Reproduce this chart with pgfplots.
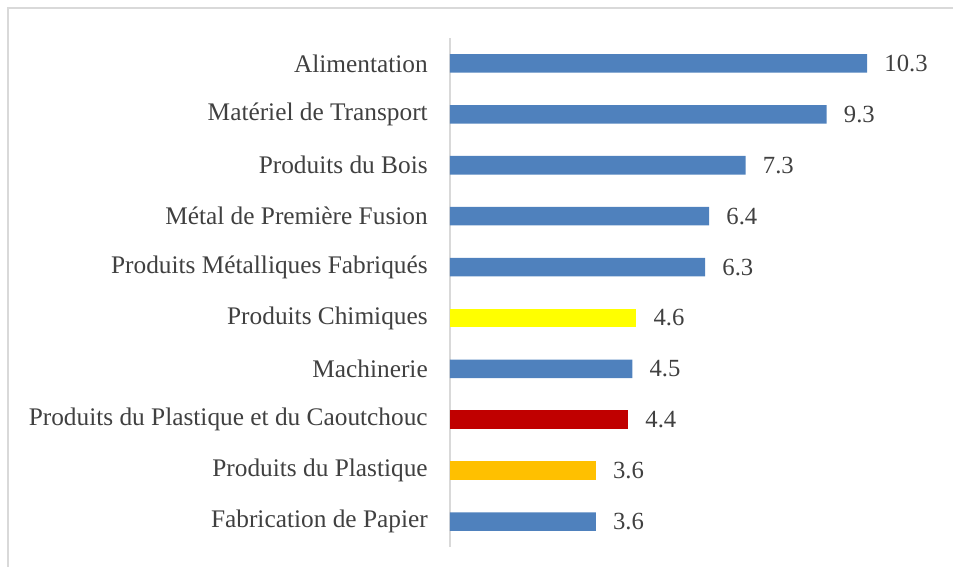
\documentclass[border=0pt]{standalone}
\usepackage{pgfplots}
\pgfplotsset{compat=1.18}
\usepackage{fontspec}
\setmainfont{Liberation Serif}
\definecolor{txt}{HTML}{404040}
\definecolor{cblue}{HTML}{4F81BD}
\definecolor{cyellow}{HTML}{FFFF00}
\definecolor{cred}{HTML}{C00000}
\definecolor{corange}{HTML}{FFC000}
\definecolor{gridg}{HTML}{D9D9D9}
\begin{document}
\begin{tikzpicture}
\useasboundingbox (0,0) rectangle (714.75pt,425.25pt);
\draw[gridg, line width=0.8pt] (6pt,-5pt) -- (6pt,419.25pt) -- (720pt,419.25pt);
\begin{axis}[
  at={(337.5pt,15pt)}, anchor=south west,
  scale only axis, width=364.5pt, height=381.75pt,
  xmin=0, xmax=12, ymin=-0.5, ymax=9.5,
  hide x axis,
  axis y line*=left,
  y axis line style={draw=gridg, line width=0.8pt, -},
  ytick={0,...,9},
  yticklabels={Fabrication de Papier, Produits du Plastique, Produits du Plastique et du Caoutchouc, Machinerie, Produits Chimiques, Produits Métalliques Fabriqués, Métal de Première Fusion, Produits du Bois, Matériel de Transport, Alimentation},
  major tick length=0pt,
  y tick label style={font=\fontsize{19}{21}\selectfont, text=txt, inner sep=0pt, xshift=-16.5pt},
  xbar, bar width=13.9pt, bar shift=0pt,
  clip=false,
  nodes near coords,
  nodes near coords style={font=\fontsize{18.5}{21}\selectfont, text=txt, anchor=west, inner sep=0pt, xshift=12.75pt},
  point meta=explicit symbolic,
]
\addplot[fill=cblue, draw=none] coordinates {(3.6,0)[3.6] (4.5,3)[4.5] (6.3,5)[6.3] (6.4,6)[6.4] (7.3,7)[7.3] (9.3,8)[9.3] (10.3,9)[10.3]};
\addplot[fill=corange, draw=none] coordinates {(3.6,1)[3.6]};
\addplot[fill=cred, draw=none] coordinates {(4.4,2)[4.4]};
\addplot[fill=cyellow, draw=none] coordinates {(4.6,4)[4.6]};
\end{axis}
\end{tikzpicture}
\end{document}
